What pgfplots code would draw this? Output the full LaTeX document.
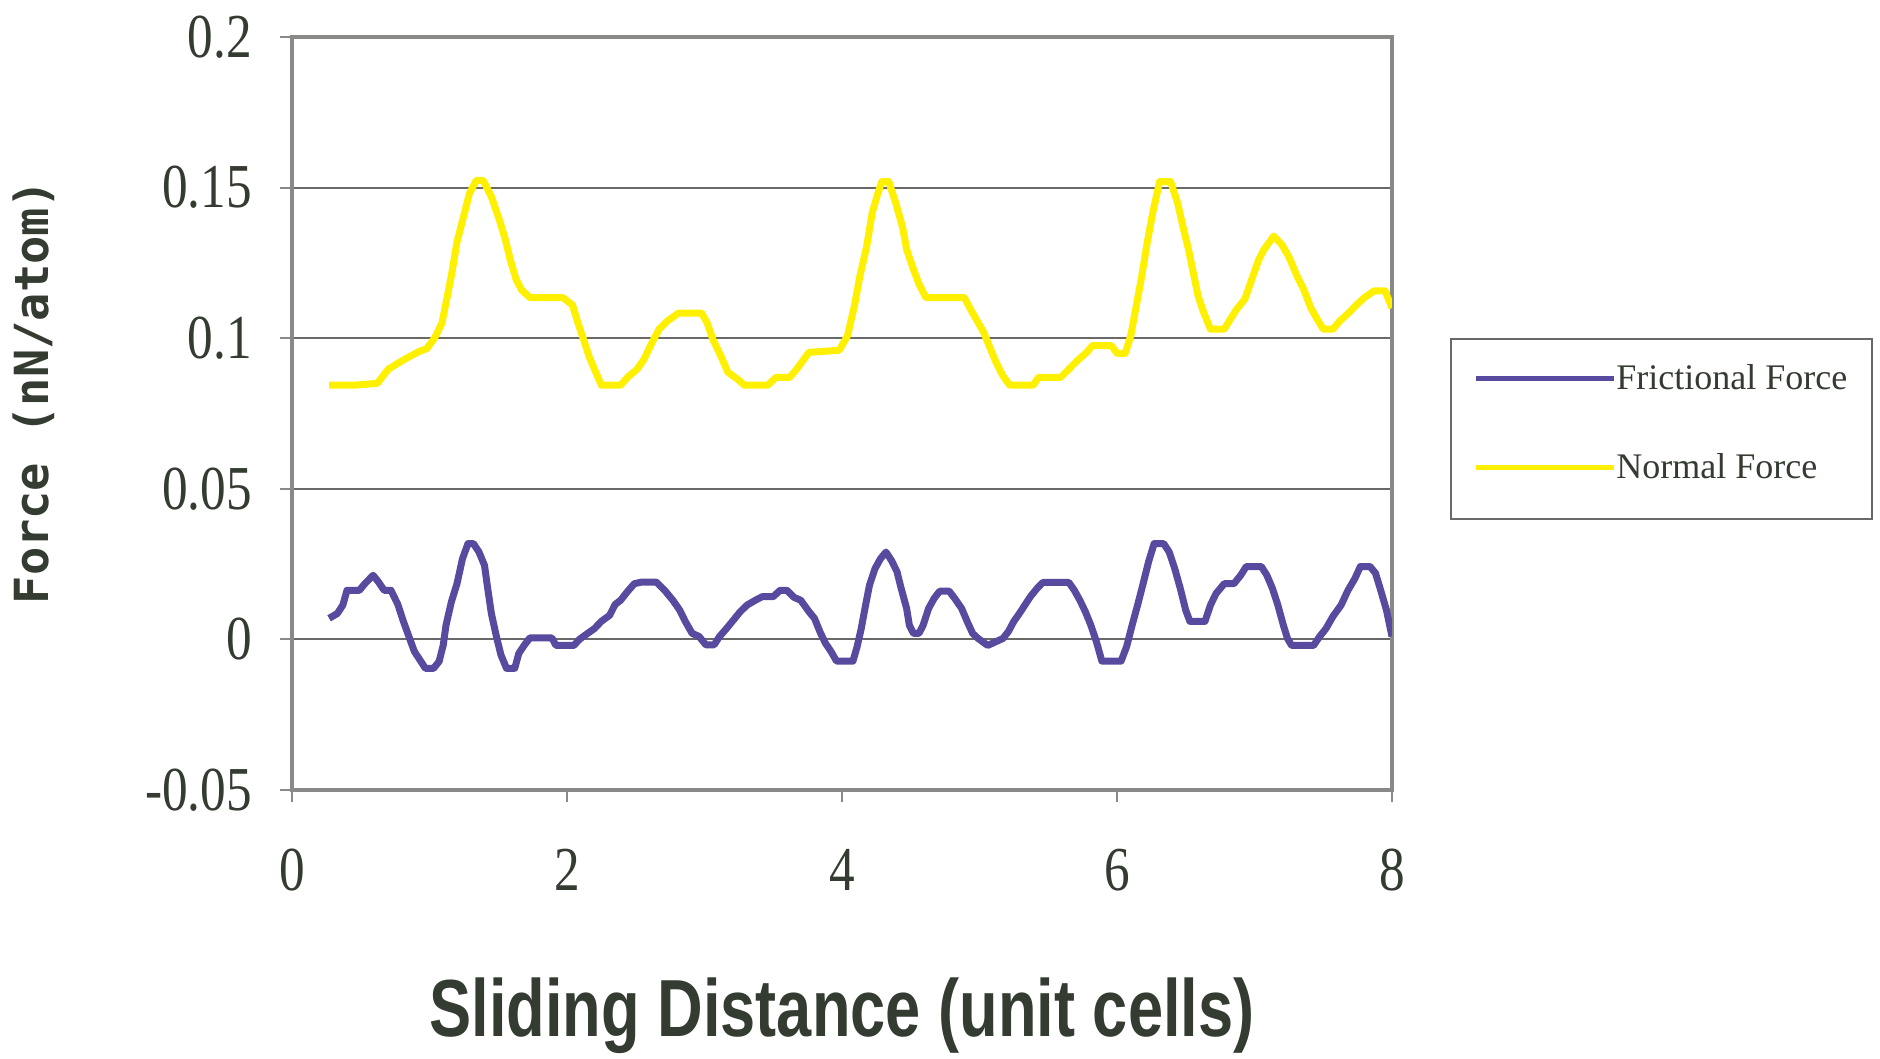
\documentclass[border=0pt]{standalone}
\usepackage{fontspec}
\setmainfont{Liberation Serif}
\newfontfamily\tickfont[FakeStretch=0.82]{Liberation Serif}
\newfontfamily\labfont[FakeStretch=0.78]{Liberation Sans}
\newfontfamily\ylabfont{DejaVu Sans Mono}
\usepackage{pgfplots}
\pgfplotsset{compat=1.18}
\definecolor{fric}{RGB}{88,74,158}
\definecolor{norm}{RGB}{255,240,0}
\definecolor{txt}{RGB}{52,60,50}
\definecolor{framec}{RGB}{135,138,135}
\definecolor{gridc}{RGB}{105,105,105}

\pgfplotstableread{
x y
0.27 0.0070
0.33 0.0086
0.37 0.0114
0.40 0.0163
0.49 0.0163
0.53 0.0185
0.59 0.0213
0.63 0.0190
0.67 0.0163
0.72 0.0163
0.77 0.0116
0.81 0.0060
0.85 0.0010
0.89 -0.0040
0.93 -0.0068
0.97 -0.0096
1.03 -0.0096
1.07 -0.0073
1.10 -0.0019
1.12 0.0047
1.16 0.0126
1.20 0.0185
1.24 0.0268
1.28 0.0318
1.32 0.0318
1.36 0.0290
1.40 0.0246
1.42 0.0180
1.45 0.0086
1.49 0.0003
1.52 -0.0052
1.56 -0.0096
1.62 -0.0096
1.65 -0.0046
1.69 -0.0019
1.73 0.0005
1.89 0.0005
1.92 -0.0020
2.05 -0.0020
2.09 0.0000
2.15 0.0020
2.20 0.0036
2.25 0.0060
2.31 0.0080
2.35 0.0116
2.39 0.0130
2.44 0.0159
2.49 0.0185
2.54 0.0190
2.65 0.0190
2.71 0.0163
2.77 0.0130
2.82 0.0097
2.86 0.0060
2.91 0.0020
2.96 0.0010
3.01 -0.0018
3.07 -0.0018
3.11 0.0010
3.16 0.0036
3.21 0.0064
3.26 0.0092
3.31 0.0114
3.37 0.0130
3.42 0.0142
3.50 0.0142
3.55 0.0163
3.60 0.0163
3.65 0.0140
3.70 0.0130
3.76 0.0092
3.80 0.0070
3.84 0.0025
3.88 -0.0013
3.92 -0.0040
3.96 -0.0072
4.08 -0.0072
4.11 -0.0024
4.14 0.0036
4.17 0.0110
4.20 0.0180
4.24 0.0235
4.28 0.0268
4.32 0.0290
4.36 0.0262
4.40 0.0225
4.43 0.0170
4.47 0.0103
4.49 0.0047
4.52 0.0020
4.56 0.0020
4.59 0.0047
4.63 0.0103
4.67 0.0136
4.71 0.0160
4.78 0.0160
4.82 0.0136
4.87 0.0103
4.91 0.0060
4.95 0.0020
4.99 0.0003
5.06 -0.0020
5.17 0.0003
5.21 0.0026
5.25 0.0060
5.29 0.0086
5.33 0.0114
5.37 0.0142
5.42 0.0170
5.46 0.0189
5.65 0.0189
5.69 0.0163
5.73 0.0130
5.77 0.0092
5.81 0.0047
5.85 -0.0007
5.89 -0.0072
6.03 -0.0072
6.07 -0.0024
6.11 0.0047
6.15 0.0114
6.19 0.0185
6.23 0.0258
6.27 0.0318
6.34 0.0318
6.38 0.0290
6.42 0.0235
6.46 0.0170
6.50 0.0097
6.53 0.0060
6.64 0.0060
6.68 0.0114
6.72 0.0152
6.78 0.0185
6.85 0.0185
6.90 0.0213
6.94 0.0242
7.05 0.0242
7.09 0.0213
7.13 0.0170
7.17 0.0114
7.21 0.0047
7.24 0.0003
7.27 -0.0020
7.43 -0.0020
7.47 0.0007
7.52 0.0036
7.57 0.0076
7.63 0.0114
7.68 0.0163
7.73 0.0202
7.77 0.0242
7.84 0.0242
7.88 0.0220
7.92 0.0160
7.96 0.0097
8.00 0.0010
}\fricdata

\pgfplotstableread{
x y
0.27 0.0844
0.45 0.0844
0.62 0.0850
0.70 0.0897
0.80 0.0925
0.92 0.0955
0.98 0.0965
1.04 0.1003
1.09 0.1050
1.13 0.1140
1.16 0.1210
1.20 0.1320
1.24 0.1390
1.29 0.1480
1.34 0.1524
1.39 0.1524
1.45 0.1470
1.51 0.1390
1.55 0.1330
1.59 0.1256
1.63 0.1195
1.67 0.1160
1.73 0.1135
1.97 0.1135
2.04 0.1110
2.08 0.1050
2.12 0.0997
2.16 0.0940
2.20 0.0897
2.25 0.0844
2.39 0.0844
2.44 0.0870
2.51 0.0897
2.56 0.0930
2.62 0.0987
2.67 0.1030
2.73 0.1057
2.81 0.1083
2.98 0.1083
3.02 0.1050
3.06 0.0997
3.12 0.0940
3.17 0.0887
3.24 0.0864
3.29 0.0844
3.46 0.0844
3.52 0.0870
3.62 0.0870
3.67 0.0897
3.76 0.0953
3.98 0.0960
4.04 0.1008
4.09 0.1107
4.13 0.1206
4.18 0.1306
4.22 0.1417
4.26 0.1480
4.29 0.1520
4.34 0.1520
4.39 0.1450
4.44 0.1370
4.47 0.1295
4.52 0.1228
4.56 0.1180
4.61 0.1135
4.89 0.1135
4.93 0.1100
4.98 0.1060
5.03 0.1020
5.07 0.0975
5.12 0.0920
5.17 0.0875
5.22 0.0844
5.39 0.0844
5.43 0.0870
5.59 0.0870
5.65 0.0897
5.71 0.0925
5.78 0.0953
5.82 0.0975
5.96 0.0975
6.00 0.0950
6.06 0.0950
6.10 0.1008
6.14 0.1107
6.18 0.1206
6.22 0.1318
6.26 0.1417
6.31 0.1520
6.39 0.1520
6.44 0.1450
6.48 0.1370
6.52 0.1295
6.56 0.1206
6.59 0.1140
6.63 0.1086
6.68 0.1030
6.78 0.1030
6.82 0.1060
6.87 0.1096
6.93 0.1130
6.98 0.1195
7.03 0.1260
7.07 0.1295
7.14 0.1339
7.20 0.1310
7.25 0.1270
7.31 0.1206
7.36 0.1160
7.41 0.1100
7.46 0.1060
7.50 0.1030
7.57 0.1030
7.62 0.1057
7.69 0.1086
7.74 0.1110
7.80 0.1135
7.87 0.1157
7.95 0.1157
8.00 0.1100
}\normdata

\begin{document}
\begin{tikzpicture}
\useasboundingbox (-116.8pt,-107.2pt) rectangle (635.2pt,316pt);
\fill[white] (463.6pt,108.4pt) rectangle (632pt,180.4pt);
\begin{axis}[
  at={(0,0)}, anchor=south west,
  scale only axis, width=440pt, height=301.2pt,
  xmin=0, xmax=8, ymin=-0.05, ymax=0.2,
  xtick={0,2,4,6,8}, xticklabels={0,2,4,6,8},
  ytick={-0.05,0,0.05,0.1,0.15,0.2},
  yticklabels={-0.05,0,0.05,0.1,0.15,0.2},
  xtick pos=left, ytick pos=left,
  tick align=outside, major tick length=4.8pt,
  tick style={framec, line width=0.8pt},
  ymajorgrids, major grid style={gridc, line width=0.8pt},
  axis line style={framec, line width=1.8pt},
  yticklabel style={font=\tickfont\fontsize{25}{25}\selectfont, text=txt, anchor=east, inner sep=0pt, xshift=-11pt},
  xticklabel style={font=\tickfont\fontsize{25}{25}\selectfont, text=txt, anchor=north, inner sep=0pt, yshift=-18.6pt},
  xlabel={Sliding Distance (unit cells)},
  xlabel style={font=\labfont\bfseries\fontsize{32.4}{34}\selectfont, text=txt, at={(axis description cs:0.5,-0.328)}, anchor=base, inner sep=0pt},
  ylabel={Force (nN/atom)},
  ylabel style={font=\ylabfont\bfseries\fontsize{18.8}{20}\selectfont, text=txt, at={(axis description cs:-0.2345,0.5286)}, anchor=center, inner sep=0pt},
  legend style={at={(axis description cs:1.0536,0.599)}, anchor=north west, draw=none, fill=none,
    font=\fontsize{14.4}{14.4}\selectfont, text=txt, inner xsep=9pt, inner ysep=10pt, row sep=24pt,
    nodes={inner sep=0pt}},
  legend image code/.code={\draw[#1, line width=2pt] (0pt,0pt) -- (55pt,0pt);},
  legend cell align=left,
  /tikz/every even column/.append style={column sep=4pt},
]
\addplot[fric, line width=2.8pt, line join=round] table[x=x,y=y] {\fricdata};
\addlegendentry{Frictional Force}
\addplot[norm, line width=2.8pt, line join=round] table[x=x,y=y] {\normdata};
\addlegendentry{Normal Force}
\end{axis}
\draw[gridc, line width=0.8pt] (463.6pt,108.4pt) rectangle (632pt,180.4pt);
\end{tikzpicture}
\end{document}
